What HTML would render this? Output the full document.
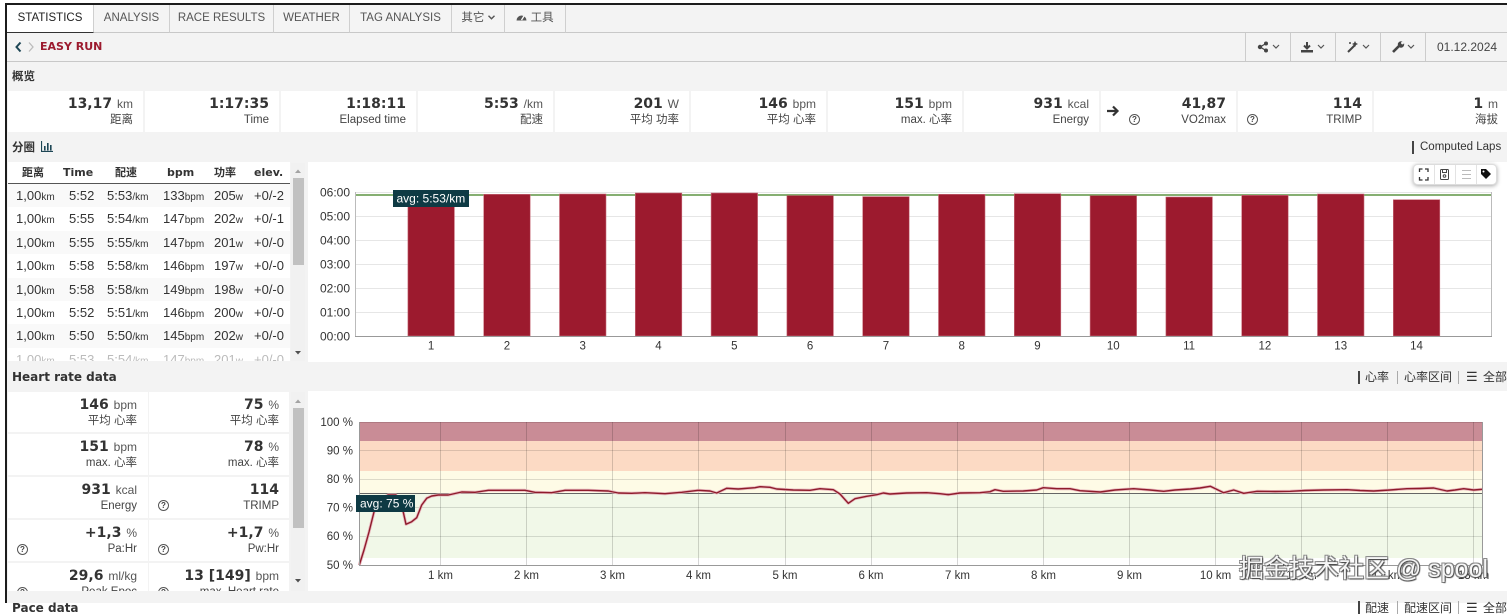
<!DOCTYPE html>
<html><head><meta charset="utf-8">
<style>
*{box-sizing:border-box;margin:0;padding:0}
body{width:1507px;height:603px;overflow:hidden;background:#fff;position:relative;font-family:"Liberation Sans","Noto Sans CJK SC",sans-serif;color:#333}
.a{position:absolute}
.bd{font-family:"DejaVu Sans","Noto Sans CJK SC",sans-serif;font-weight:bold}
.tab{position:absolute;top:5px;height:28px;border-right:1px solid #cfcfcf;font-size:11.5px;color:#555;line-height:27px;text-align:center;background:#f4f4f4;border-bottom:1px solid #c8c8c8}
.cell{position:absolute;background:#fff}
.cell .v{position:absolute;right:10px;top:4px;white-space:nowrap;line-height:18px;font-family:"DejaVu Sans","Noto Sans CJK SC",sans-serif;font-weight:bold;font-size:14px;color:#333}
.cell .v .u{font-family:"Liberation Sans",sans-serif;font-weight:normal;font-size:12px;color:#555}
.cell .l{position:absolute;right:10px;top:21px;line-height:16px;font-size:11.5px;color:#444;white-space:nowrap}
.q{position:absolute;width:11px;height:11px;border:1px solid #555;border-radius:50%;font-size:8px;line-height:9px;text-align:center;color:#444;font-weight:bold;background:#fff}
.row{position:absolute;left:8px;width:282px;height:23.4px;font-size:13px;line-height:23px;color:#333}
.row span{position:absolute;top:0;white-space:nowrap}
.row small{font-size:10px}
.hd{position:absolute;top:166px;font-size:11px;line-height:14px;color:#333}
</style></head><body>

<!-- frame -->
<div class="a" style="left:5px;top:3px;width:1502px;height:600px;border-left:2px solid #1c1c1c;border-top:2px solid #1c1c1c;background:#f3f3f3"></div>

<!-- tab bar -->
<div class="a" style="left:7px;top:5px;width:1500px;height:28px;background:#f3f3f3;border-bottom:1px solid #c8c8c8"></div>
<div class="tab" style="left:7px;width:87px;background:#fff;color:#222;border-bottom:1px solid #333">STATISTICS</div>
<div class="tab" style="left:94px;width:76px">ANALYSIS</div>
<div class="tab" style="left:170px;width:104px">RACE RESULTS</div>
<div class="tab" style="left:274px;width:76px">WEATHER</div>
<div class="tab" style="left:350px;width:102px">TAG ANALYSIS</div>
<div class="tab" style="left:452px;width:53px">其它 <svg width="7" height="5" viewBox="0 0 7 5" style="vertical-align:1px"><path d="M0.5 0.8 L3.5 3.8 L6.5 0.8" stroke="#555" stroke-width="1.4" fill="none"/></svg></div>
<div class="tab" style="left:505px;width:61px"><svg width="11" height="10" viewBox="0 0 11 10" style="vertical-align:-1px"><path d="M0.5 8.5 A5 5 0 1 1 10.5 8.5 Z" fill="#555"/><line x1="5.5" y1="8" x2="8" y2="4" stroke="#fff" stroke-width="1.3"/></svg> 工具</div>

<!-- breadcrumb row -->
<div class="a" style="left:7px;top:33px;width:1500px;height:29px;background:#f3f3f3;border-bottom:1px solid #c8c8c8"></div>
<svg class="a" style="left:14px;top:41px" width="24" height="12" viewBox="0 0 24 12"><path d="M6.5 1.5 L2.5 6 L6.5 10.5" stroke="#1d4655" stroke-width="2" fill="none"/><path d="M15 1.5 L19 6 L15 10.5" stroke="#bbb" stroke-width="1.3" fill="none"/></svg>
<div class="a bd" style="left:40px;top:39px;font-size:11px;line-height:16px;color:#9c1a2e">EASY RUN</div>
<div class="a" style="left:1245px;top:33px;width:1px;height:28px;background:#ccc"></div>
<div class="a" style="left:1290px;top:33px;width:1px;height:28px;background:#ccc"></div>
<div class="a" style="left:1335px;top:33px;width:1px;height:28px;background:#ccc"></div>
<div class="a" style="left:1380px;top:33px;width:1px;height:28px;background:#ccc"></div>
<div class="a" style="left:1425px;top:33px;width:1px;height:28px;background:#ccc"></div>
<svg class="a" style="left:1255px;top:40px" width="170" height="14" viewBox="0 0 170 14">
 <g fill="#444"><circle cx="5" cy="7" r="2.2"/><circle cx="11" cy="3.5" r="2"/><circle cx="11" cy="10.5" r="2"/></g>
 <path d="M5 7 L11 3.5 M5 7 L11 10.5" stroke="#444" stroke-width="1.3"/>
 <path d="M18 5 L21 8 L24 5" stroke="#555" stroke-width="1.2" fill="none"/>
 <path d="M52 2 L52 8 M49 5.5 L52 8.5 L55 5.5" stroke="#444" stroke-width="2" fill="none"/><rect x="46" y="10" width="12" height="2.5" fill="#444"/>
 <path d="M63 5 L66 8 L69 5" stroke="#555" stroke-width="1.2" fill="none"/>
 <path d="M93 12 L100 5" stroke="#444" stroke-width="2"/><path d="M100 1 l1 2 l2 1 l-2 1 l-1 2 l-1 -2 l-2 -1 l2 -1z" fill="#444"/><circle cx="95" cy="3" r="1" fill="#444"/>
 <path d="M108 5 L111 8 L114 5" stroke="#555" stroke-width="1.2" fill="none"/>
 <path d="M138 12 L144 6" stroke="#444" stroke-width="2.6"/><circle cx="146" cy="4.5" r="3.2" fill="#444"/><circle cx="147.5" cy="3" r="1.4" fill="#f3f3f3"/>
 <path d="M153 5 L156 8 L159 5" stroke="#555" stroke-width="1.2" fill="none"/>
</svg>
<div class="a" style="left:1437px;top:39px;font-size:12px;line-height:16px;color:#444">01.12.2024</div>

<!-- overview -->
<div class="a bd" style="left:12px;top:68px;font-size:11.5px;line-height:16px;color:#333">概览</div>

<div class="cell" style="left:8px;top:91px;width:135px;height:41px"><div class="v">13,17 <span class="u">km</span></div><div class="l">距离</div></div>
<div class="cell" style="left:145px;top:91px;width:134px;height:41px"><div class="v">1:17:35</div><div class="l">Time</div></div>
<div class="cell" style="left:281px;top:91px;width:135px;height:41px"><div class="v">1:18:11</div><div class="l">Elapsed time</div></div>
<div class="cell" style="left:418px;top:91px;width:135px;height:41px"><div class="v">5:53 <span class="u">/km</span></div><div class="l">配速</div></div>
<div class="cell" style="left:555px;top:91px;width:134px;height:41px"><div class="v">201 <span class="u">W</span></div><div class="l">平均 功率</div></div>
<div class="cell" style="left:691px;top:91px;width:135px;height:41px"><div class="v">146 <span class="u">bpm</span></div><div class="l">平均 心率</div></div>
<div class="cell" style="left:828px;top:91px;width:134px;height:41px"><div class="v">151 <span class="u">bpm</span></div><div class="l">max. 心率</div></div>
<div class="cell" style="left:964px;top:91px;width:135px;height:41px"><div class="v">931 <span class="u">kcal</span></div><div class="l">Energy</div></div>
<div class="cell" style="left:1101px;top:91px;width:135px;height:41px"><div class="v">41,87</div><div class="l">VO2max</div>
  <svg class="a" style="left:5px;top:14px" width="14" height="12" viewBox="0 0 14 12"><path d="M1 6 H11 M7 1.5 L11.5 6 L7 10.5" stroke="#333" stroke-width="2.2" fill="none"/></svg>
  <div class="q" style="left:28px;top:23px">?</div></div>
<div class="cell" style="left:1238px;top:91px;width:134px;height:41px"><div class="v">114</div><div class="l">TRIMP</div>
  <div class="q" style="left:9px;top:23px">?</div></div>
<div class="cell" style="left:1374px;top:91px;width:133px;height:41px"><div class="v" style="right:9px">1 <span class="u">m</span></div><div class="l" style="right:9px">海拔</div></div>

<!-- laps header -->
<div class="a bd" style="left:12px;top:139px;font-size:11.5px;line-height:16px;color:#333">分圈</div>
<svg class="a" style="left:41px;top:141px" width="12" height="11" viewBox="0 0 12 11"><path d="M0.5 0 V10.5 H12" stroke="#1d4655" stroke-width="1.2" fill="none"/><rect x="3" y="5" width="1.6" height="4.5" fill="#1d4655"/><rect x="6" y="2" width="1.6" height="7.5" fill="#1d4655"/><rect x="9" y="4" width="1.6" height="5.5" fill="#1d4655"/></svg>
<div class="a" style="left:1412px;top:141px;width:2px;height:13px;background:#444"></div>
<div class="a" style="left:1420px;top:139px;font-size:11.5px;line-height:16px;color:#333">Computed Laps</div>

<!-- laps table -->
<div class="a" style="left:8px;top:162px;width:282px;height:199px;background:#fff;overflow:hidden"></div>
<div class="hd bd" style="left:22px">距离</div>
<div class="hd bd" style="left:63px">Time</div>
<div class="hd bd" style="left:115px">配速</div>
<div class="hd bd" style="left:167px">bpm</div>
<div class="hd bd" style="left:214px">功率</div>
<div class="hd bd" style="left:254px">elev.</div>
<div class="a" style="left:8px;top:183px;width:282px;height:1px;background:#555"></div>

<div class="row" style="top:184px;background:#f9f9f9"><span style="left:8px">1,00<small>km</small></span><span style="left:61px">5:52</span><span style="left:99px">5:53<small>/km</small></span><span style="left:155px">133<small>bpm</small></span><span style="left:206px">205<small>w</small></span><span style="left:246px">+0/-2</span></div>
<div class="row" style="top:207.4px"><span style="left:8px">1,00<small>km</small></span><span style="left:61px">5:55</span><span style="left:99px">5:54<small>/km</small></span><span style="left:155px">147<small>bpm</small></span><span style="left:206px">202<small>w</small></span><span style="left:246px">+0/-1</span></div>
<div class="row" style="top:230.8px;background:#f9f9f9"><span style="left:8px">1,00<small>km</small></span><span style="left:61px">5:55</span><span style="left:99px">5:55<small>/km</small></span><span style="left:155px">147<small>bpm</small></span><span style="left:206px">201<small>w</small></span><span style="left:246px">+0/-0</span></div>
<div class="row" style="top:254.2px"><span style="left:8px">1,00<small>km</small></span><span style="left:61px">5:58</span><span style="left:99px">5:58<small>/km</small></span><span style="left:155px">146<small>bpm</small></span><span style="left:206px">197<small>w</small></span><span style="left:246px">+0/-0</span></div>
<div class="row" style="top:277.6px;background:#f9f9f9"><span style="left:8px">1,00<small>km</small></span><span style="left:61px">5:58</span><span style="left:99px">5:58<small>/km</small></span><span style="left:155px">149<small>bpm</small></span><span style="left:206px">198<small>w</small></span><span style="left:246px">+0/-0</span></div>
<div class="row" style="top:301px"><span style="left:8px">1,00<small>km</small></span><span style="left:61px">5:52</span><span style="left:99px">5:51<small>/km</small></span><span style="left:155px">146<small>bpm</small></span><span style="left:206px">200<small>w</small></span><span style="left:246px">+0/-0</span></div>
<div class="row" style="top:324.4px;background:#f9f9f9"><span style="left:8px">1,00<small>km</small></span><span style="left:61px">5:50</span><span style="left:99px">5:50<small>/km</small></span><span style="left:155px">145<small>bpm</small></span><span style="left:206px">202<small>w</small></span><span style="left:246px">+0/-0</span></div>
<div class="a" style="left:8px;top:347.8px;width:282px;height:13px;overflow:hidden"><div class="row" style="left:0;top:0;color:#bbb"><span style="left:8px">1,00<small>km</small></span><span style="left:61px">5:53</span><span style="left:99px">5:54<small>/km</small></span><span style="left:155px">147<small>bpm</small></span><span style="left:206px">201<small>w</small></span><span style="left:246px">+0/-0</span></div></div>

<!-- laps scrollbar -->
<div class="a" style="left:291px;top:163px;width:14px;height:198px;background:#f1f1f1"></div>
<div class="a" style="left:293px;top:178px;width:11px;height:87px;background:#c1c1c1"></div>
<svg class="a" style="left:291px;top:163px" width="14" height="198"><path d="M4 10 L7 6.5 L10 10Z" fill="#a3a3a3"/><path d="M4 188 L7 191.5 L10 188Z" fill="#505050"/></svg>

<!-- bar chart panel -->
<div class="a" style="left:308px;top:162px;width:1199px;height:200px;background:#fff"></div>

<!-- HR header -->
<div class="a bd" style="left:12px;top:369px;font-size:12px;line-height:16px;color:#333">Heart rate data</div>
<div class="a" style="left:1358px;top:371px;width:2px;height:13px;background:#444"></div>
<div class="a" style="left:1365px;top:369px;font-size:12px;line-height:16px">心率</div>
<div class="a" style="left:1397px;top:371px;width:1px;height:13px;background:#aaa"></div>
<div class="a" style="left:1404px;top:369px;font-size:12px;line-height:16px">心率区间</div>
<div class="a" style="left:1458px;top:371px;width:1px;height:13px;background:#aaa"></div>
<div class="a" style="left:1466px;top:369px;font-size:13px;line-height:16px">☰</div>
<div class="a" style="left:1483px;top:369px;font-size:12px;line-height:16px">全部</div>

<!-- HR stats -->
<div class="a" style="left:8px;top:391px;width:282px;height:200px;overflow:hidden">
 <div class="cell" style="left:0;top:1px;width:140px;height:40px"><div class="v" style="right:11px">146 <span class="u">bpm</span></div><div class="l" style="right:11px">平均 心率</div></div>
 <div class="cell" style="left:141px;top:1px;width:140px;height:40px"><div class="v">75 <span class="u">%</span></div><div class="l">平均 心率</div></div>
 <div class="cell" style="left:0;top:43px;width:140px;height:41px"><div class="v" style="right:11px">151 <span class="u">bpm</span></div><div class="l" style="right:11px">max. 心率</div></div>
 <div class="cell" style="left:141px;top:43px;width:140px;height:41px"><div class="v">78 <span class="u">%</span></div><div class="l">max. 心率</div></div>
 <div class="cell" style="left:0;top:86px;width:140px;height:41px"><div class="v" style="right:11px">931 <span class="u">kcal</span></div><div class="l" style="right:11px">Energy</div></div>
 <div class="cell" style="left:141px;top:86px;width:140px;height:41px"><div class="v">114</div><div class="l">TRIMP</div><div class="q" style="left:9px;top:23px">?</div></div>
 <div class="cell" style="left:0;top:129px;width:140px;height:41px"><div class="v" style="right:11px">+1,3 <span class="u">%</span></div><div class="l" style="right:11px">Pa:Hr</div><div class="q" style="left:9px;top:24px">?</div></div>
 <div class="cell" style="left:141px;top:129px;width:140px;height:41px"><div class="v">+1,7 <span class="u">%</span></div><div class="l">Pw:Hr</div><div class="q" style="left:9px;top:24px">?</div></div>
 <div class="cell" style="left:0;top:172px;width:140px;height:41px"><div class="v" style="right:11px">29,6 <span class="u">ml/kg</span></div><div class="l" style="right:11px">Peak Epoc</div><div class="q" style="left:9px;top:24px">?</div></div>
 <div class="cell" style="left:141px;top:172px;width:140px;height:41px"><div class="v">13 [149] <span class="u">bpm</span></div><div class="l">max. Heart rate</div><div class="q" style="left:9px;top:24px">?</div></div>
</div>
<div class="a" style="left:291px;top:392px;width:14px;height:199px;background:#f1f1f1"></div>
<div class="a" style="left:293px;top:408px;width:11px;height:120px;background:#c1c1c1"></div>
<svg class="a" style="left:291px;top:392px" width="14" height="199"><path d="M4 11 L7 7.5 L10 11Z" fill="#a3a3a3"/><path d="M4 187 L7 190.5 L10 187Z" fill="#505050"/></svg>

<!-- HR chart panel -->
<div class="a" style="left:308px;top:391px;width:1199px;height:200px;background:#fff"></div>

<!-- bottom section header (cut) -->
<div class="a bd" style="left:12px;top:600px;font-size:12px;line-height:16px;color:#333">Pace data</div>
<div class="a" style="left:1358px;top:601px;width:2px;height:13px;background:#444"></div>
<div class="a" style="left:1365px;top:600px;font-size:12px;line-height:16px">配速</div>
<div class="a" style="left:1397px;top:601px;width:1px;height:13px;background:#aaa"></div>
<div class="a" style="left:1404px;top:600px;font-size:12px;line-height:16px">配速区间</div>
<div class="a" style="left:1458px;top:601px;width:1px;height:13px;background:#aaa"></div>
<div class="a" style="left:1466px;top:600px;font-size:13px;line-height:16px">☰</div>
<div class="a" style="left:1483px;top:600px;font-size:12px;line-height:16px">全部</div>

<!-- charts -->
<svg class="a" style="left:0;top:0" width="1507" height="603" viewBox="0 0 1507 603" font-family="Liberation Sans, sans-serif">
 <g stroke="#e6e6e6" stroke-width="1">
  <line x1="355" y1="192.5" x2="1492" y2="192.5"/>
  <line x1="355" y1="216.5" x2="1492" y2="216.5"/>
  <line x1="355" y1="240.5" x2="1492" y2="240.5"/>
  <line x1="355" y1="264.5" x2="1492" y2="264.5"/>
  <line x1="355" y1="288.5" x2="1492" y2="288.5"/>
  <line x1="355" y1="312.5" x2="1492" y2="312.5"/>
 </g>
 <line x1="355" y1="195" x2="1492" y2="195" stroke="#3f7f1f" stroke-width="1.2"/>
 <g fill="#9c1a2e" stroke="#c9707d" stroke-width="0.6">
  <rect x="407.9" y="194.8" width="46.5" height="141.2"/>
  <rect x="483.7" y="194.3" width="46.5" height="141.7"/>
  <rect x="559.5" y="194" width="46.5" height="142"/>
  <rect x="635.3" y="193" width="46.5" height="143"/>
  <rect x="711.1" y="193" width="46.5" height="143"/>
  <rect x="786.9" y="195.6" width="46.5" height="140.4"/>
  <rect x="862.7" y="196.6" width="46.5" height="139.4"/>
  <rect x="938.5" y="194.3" width="46.5" height="141.7"/>
  <rect x="1014.3" y="193.7" width="46.5" height="142.3"/>
  <rect x="1090.1" y="195.7" width="46.5" height="140.3"/>
  <rect x="1165.9" y="197" width="46.5" height="139"/>
  <rect x="1241.7" y="195.3" width="46.5" height="140.7"/>
  <rect x="1317.5" y="194" width="46.5" height="142"/>
  <rect x="1393.3" y="199.7" width="46.5" height="136.3"/>
 </g>
 <line x1="355.5" y1="192" x2="355.5" y2="336" stroke="#bbb"/>
 <line x1="1491.5" y1="192" x2="1491.5" y2="336" stroke="#bbb"/>
 <line x1="355" y1="336.5" x2="1492" y2="336.5" stroke="#999"/>
 <g font-size="12" fill="#333" text-anchor="end">
  <text x="350" y="196.5">06:00</text><text x="350" y="220.5">05:00</text><text x="350" y="244.5">04:00</text>
  <text x="350" y="268.5">03:00</text><text x="350" y="292.5">02:00</text><text x="350" y="316.5">01:00</text><text x="350" y="340.5">00:00</text>
 </g>
 <g font-size="11.5" fill="#333" text-anchor="middle">
  <text x="431.1" y="349.5">1</text><text x="506.9" y="349.5">2</text><text x="582.7" y="349.5">3</text><text x="658.5" y="349.5">4</text>
  <text x="734.3" y="349.5">5</text><text x="810.1" y="349.5">6</text><text x="885.9" y="349.5">7</text><text x="961.7" y="349.5">8</text>
  <text x="1037.5" y="349.5">9</text><text x="1113.3" y="349.5">10</text><text x="1189.1" y="349.5">11</text><text x="1264.9" y="349.5">12</text>
  <text x="1340.7" y="349.5">13</text><text x="1416.5" y="349.5">14</text>
 </g>
 <rect x="393" y="190" width="76" height="17" fill="#0e3a44"/>
 <text x="396.5" y="202.5" font-size="12" fill="#fff">avg: 5:53/km</text>

 <rect x="1413.5" y="164.5" width="83" height="20" rx="4" fill="#fff" stroke="#ddd" style="filter:drop-shadow(0 1px 2px rgba(0,0,0,0.35))"/>
 <g stroke="#e3e3e3"><line x1="1434.5" y1="165" x2="1434.5" y2="184"/><line x1="1455.5" y1="165" x2="1455.5" y2="184"/><line x1="1476.5" y1="165" x2="1476.5" y2="184"/></g>
 <path d="M1419.5 172 v-3 h3 M1425 169 h3 v3 M1428 177 v3 h-3 M1422.5 180 h-3 v-3" stroke="#333" stroke-width="1.3" fill="none"/>
 <rect x="1440.5" y="169.5" width="8" height="10" rx="1" stroke="#444" fill="none"/><rect x="1442.5" y="169.5" width="4" height="3" stroke="#444" fill="none"/><circle cx="1444.5" cy="176" r="1.3" stroke="#444" fill="none"/>
 <g stroke="#bbb" stroke-width="1"><line x1="1462" y1="170.5" x2="1471" y2="170.5"/><line x1="1462" y1="174.5" x2="1471" y2="174.5"/><line x1="1462" y1="178.5" x2="1471" y2="178.5"/></g>
 <path d="M1481 169 h5 l5 5 l-5 5 l-5 -5 z" fill="#111"/><circle cx="1483.5" cy="171.5" r="1" fill="#fff"/>

 <rect x="359.3" y="422" width="1123.4" height="19" fill="#c98c96"/>
 <rect x="359.3" y="441" width="1123.4" height="30" fill="#fcdac4"/>
 <rect x="359.3" y="471" width="1123.4" height="23" fill="#fefbe6"/>
 <rect x="359.3" y="494" width="1123.4" height="64" fill="#f1f8e8"/>
 <g stroke="rgba(0,0,0,0.13)" stroke-width="1">
  <line x1="359" y1="422.5" x2="1483" y2="422.5"/>
  <line x1="359" y1="450.5" x2="1483" y2="450.5"/>
  <line x1="359" y1="479.5" x2="1483" y2="479.5"/>
  <line x1="359" y1="507.5" x2="1483" y2="507.5"/>
  <line x1="359" y1="536.5" x2="1483" y2="536.5"/>
 </g>
 <g stroke="rgba(0,0,0,0.16)" stroke-width="1">
  <line x1="440.5" y1="422" x2="440.5" y2="565"/><line x1="526.5" y1="422" x2="526.5" y2="565"/><line x1="612.5" y1="422" x2="612.5" y2="565"/>
  <line x1="698.5" y1="422" x2="698.5" y2="565"/><line x1="785.5" y1="422" x2="785.5" y2="565"/><line x1="871.5" y1="422" x2="871.5" y2="565"/>
  <line x1="957.5" y1="422" x2="957.5" y2="565"/><line x1="1043.5" y1="422" x2="1043.5" y2="565"/><line x1="1129.5" y1="422" x2="1129.5" y2="565"/>
  <line x1="1215.5" y1="422" x2="1215.5" y2="565"/><line x1="1301.5" y1="422" x2="1301.5" y2="565"/><line x1="1387.5" y1="422" x2="1387.5" y2="565"/>
  <line x1="1473.5" y1="422" x2="1473.5" y2="565"/>
 </g>
 <line x1="359" y1="493.5" x2="1483" y2="493.5" stroke="#666" stroke-width="1"/>
 <polyline fill="none" stroke="#e8b9bf" stroke-width="3" stroke-linejoin="round" points="359.3,565 364,550 369,532 375,508 381,499 388,495 396,495 401.7,505 406,524.3 411.7,521.7 416.7,517.7 421.7,505 426.7,498.3 431.7,496 438.3,495 448.3,495 461.7,492 475,492.3 488.3,490.3 511.7,490.3 525,490.3 535,492.3 551.7,492.7 565,490.3 588.3,490.3 608.3,491 618.3,493 631.7,493.3 645,492.7 665,493.7 681.7,492.3 698.3,490.3 710,491 716.7,493 726.7,488.3 738.3,489 755,487.7 760,486.7 770,487.3 776.7,489 793.3,490 810,490.3 820,488.7 833.3,489.7 840,494 848.3,503.3 855,498.7 866.7,496.3 876.7,494.7 883.3,493 890,494 906.7,493 926.7,492.7 940,493.7 948.3,494.7 960,493 980,492.7 990,491.7 995,489.7 1003.3,491.3 1023.3,491 1036.7,490 1043.3,487.7 1056.7,488.7 1070,488.7 1080,490.7 1100.3,492 1115,490 1133.7,488.7 1150,490 1163.7,491.3 1175,490 1190.3,489 1200,488 1210.3,486.3 1216,489 1223.7,492.7 1233.7,490 1243.7,493.3 1257,491.3 1275,491.5 1290.3,491.3 1305,490.5 1323.7,490 1347,489.7 1360,490.5 1373.7,491 1390,490 1407,488.7 1420,488.5 1433.7,488 1447,491 1455,490 1463.7,488.7 1473.7,490 1482,489.3"/>
 <polyline fill="none" stroke="#8e1b2b" stroke-width="1.4" stroke-linejoin="round" points="359.3,565 364,550 369,532 375,508 381,499 388,495 396,495 401.7,505 406,524.3 411.7,521.7 416.7,517.7 421.7,505 426.7,498.3 431.7,496 438.3,495 448.3,495 461.7,492 475,492.3 488.3,490.3 511.7,490.3 525,490.3 535,492.3 551.7,492.7 565,490.3 588.3,490.3 608.3,491 618.3,493 631.7,493.3 645,492.7 665,493.7 681.7,492.3 698.3,490.3 710,491 716.7,493 726.7,488.3 738.3,489 755,487.7 760,486.7 770,487.3 776.7,489 793.3,490 810,490.3 820,488.7 833.3,489.7 840,494 848.3,503.3 855,498.7 866.7,496.3 876.7,494.7 883.3,493 890,494 906.7,493 926.7,492.7 940,493.7 948.3,494.7 960,493 980,492.7 990,491.7 995,489.7 1003.3,491.3 1023.3,491 1036.7,490 1043.3,487.7 1056.7,488.7 1070,488.7 1080,490.7 1100.3,492 1115,490 1133.7,488.7 1150,490 1163.7,491.3 1175,490 1190.3,489 1200,488 1210.3,486.3 1216,489 1223.7,492.7 1233.7,490 1243.7,493.3 1257,491.3 1275,491.5 1290.3,491.3 1305,490.5 1323.7,490 1347,489.7 1360,490.5 1373.7,491 1390,490 1407,488.7 1420,488.5 1433.7,488 1447,491 1455,490 1463.7,488.7 1473.7,490 1482,489.3"/>
 <line x1="359.5" y1="422" x2="359.5" y2="565" stroke="#999"/>
 <line x1="1482.5" y1="422" x2="1482.5" y2="565" stroke="#999"/>
 <line x1="359" y1="565.5" x2="1483" y2="565.5" stroke="#999"/>
 <g font-size="11.5" fill="#333" text-anchor="end">
  <text x="353" y="426">100 %</text><text x="353" y="454.5">90 %</text><text x="353" y="483">80 %</text>
  <text x="353" y="511.5">70 %</text><text x="353" y="540">60 %</text><text x="353" y="569">50 %</text>
 </g>
 <g font-size="11.5" fill="#333" text-anchor="middle">
  <text x="440.5" y="579">1 km</text><text x="526.5" y="579">2 km</text><text x="612.5" y="579">3 km</text><text x="698.5" y="579">4 km</text>
  <text x="785" y="579">5 km</text><text x="871" y="579">6 km</text><text x="957.5" y="579">7 km</text><text x="1043.5" y="579">8 km</text>
  <text x="1129.5" y="579">9 km</text><text x="1215.5" y="579">10 km</text><text x="1301.5" y="579">11 km</text><text x="1387.5" y="579">12 km</text>
  <text x="1473.5" y="579">13 km</text>
 </g>
 <rect x="356" y="495" width="59" height="17" fill="#0e3a44"/>
 <text x="360" y="507.5" font-size="12" fill="#fff">avg: 75 %</text>
</svg>

<!-- watermark -->
<div class="a" style="left:1239px;top:554px;font-size:25px;line-height:30px;white-space:nowrap;font-family:'Liberation Sans','Noto Sans CJK SC',sans-serif;color:#f6f6f6;text-shadow:1px 1px 1px #444,-1px -1px 0 #888,1px -1px 0 #888,-1px 1px 0 #888">掘金技术社区 @ spool</div>

</body></html>
